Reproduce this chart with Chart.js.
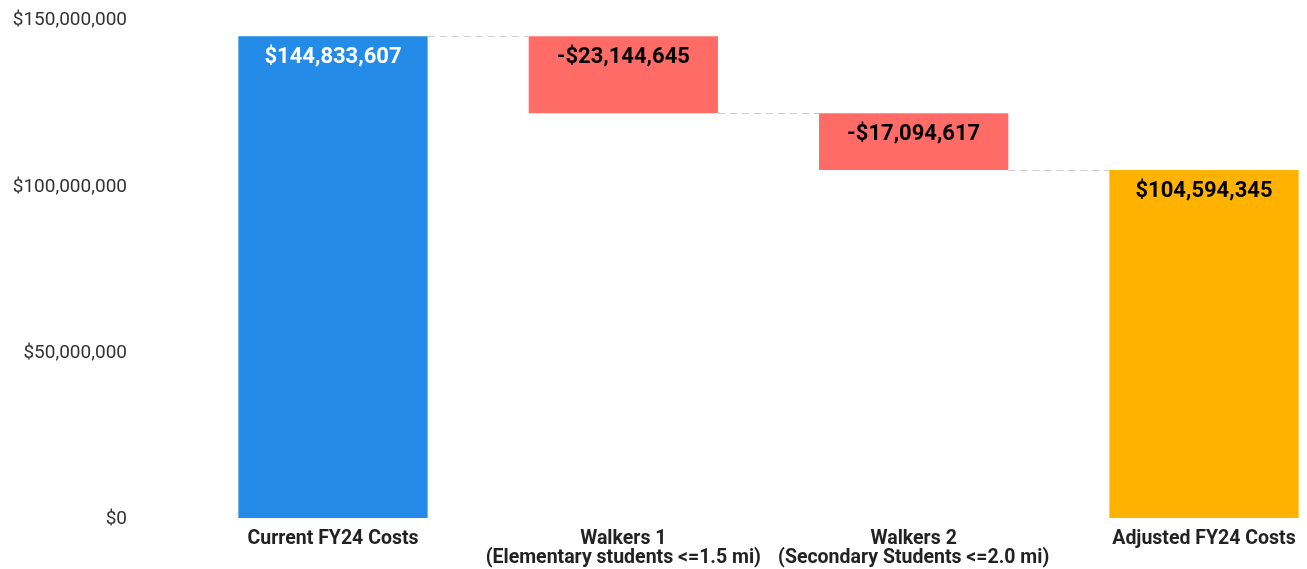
<!DOCTYPE html>
<html lang="en">
<head>
    <meta charset="UTF-8">
    <title>FY24 Costs Waterfall</title>
    <script src="https://cdn.jsdelivr.net/npm/chart.js"></script>
    <style>
        html, body { margin: 0; padding: 0; background: #fff; }
        .canvas-container { width: 1307px; height: 569px; }
    </style>
</head>
<body>

<div class="canvas-container">
    <canvas id="waterfallChart"></canvas>
</div>

<script>
    // Categories and step amounts
    const categories = [
        'Current FY24 Costs',
        ['Walkers 1', '(Elementary students <=1.5 mi)'],
        ['Walkers 2', '(Secondary Students <=2.0 mi)'],
        'Adjusted FY24 Costs'
    ];
    const amounts = [144833607, -23144645, -17094617, 104594345];
    const isTotal = [true, false, false, true];
    const yTicks = [0, 50000000, 100000000, 150000000];

    const barColors = ['#248be8', '#ff6b66', '#ff6b66', '#ffb300'];
    const labelColors = ['#ffffff', '#000000', '#000000', '#000000'];

    // Build floating ranges for the waterfall
    let running = 0;
    const ranges = amounts.map((amt, i) => {
        if (isTotal[i]) {
            running = amt;
            return [0, amt];
        }
        const start = running;
        running += amt;
        return [running, start];
    });
    const levels = [];
    running = 0;
    amounts.forEach((amt, i) => {
        running = isTotal[i] ? amt : running + amt;
        levels.push(running);
    });

    function money(v) {
        const s = '$' + Math.abs(v).toLocaleString('en-US');
        return v < 0 ? '-' + s : s;
    }

    // Draws the dashed connectors and the value labels
    const waterfallPlugin = {
        id: 'waterfall',
        afterDatasetsDraw(chart) {
            const ctx = chart.ctx;
            const yScale = chart.scales.y;
            const bars = chart.getDatasetMeta(0).data;

            ctx.save();
            ctx.strokeStyle = '#cccccc';
            ctx.lineWidth = 1;
            ctx.setLineDash([7, 5]);
            for (let i = 0; i < bars.length - 1; i++) {
                const y = Math.round(yScale.getPixelForValue(levels[i])) + 0.5;
                ctx.beginPath();
                ctx.moveTo(bars[i].x + bars[i].width / 2, y);
                ctx.lineTo(bars[i + 1].x - bars[i + 1].width / 2, y);
                ctx.stroke();
            }
            ctx.restore();

            ctx.save();
            ctx.font = 'bold 22px Roboto';
            ctx.textAlign = 'center';
            ctx.textBaseline = 'middle';
            bars.forEach((bar, i) => {
                const top = yScale.getPixelForValue(Math.max(ranges[i][0], ranges[i][1]));
                ctx.fillStyle = labelColors[i];
                ctx.fillText(money(amounts[i]), bar.x, top + 21.5);
            });
            ctx.restore();
        }
    };

    const ctx = document.getElementById('waterfallChart').getContext('2d');

    const waterfallChart = new Chart(ctx, {
        type: 'bar',
        data: {
            labels: categories,
            datasets: [{
                data: ranges,
                backgroundColor: barColors,
                borderWidth: 0,
                borderSkipped: false,
                clip: false,
                categoryPercentage: 1,
                barPercentage: 0.652
            }]
        },
        plugins: [waterfallPlugin],
        options: {
            responsive: true,
            maintainAspectRatio: false,
            animation: false,
            layout: {
                padding: { top: 0, right: 103, bottom: 0, left: 0 }
            },
            plugins: {
                legend: { display: false },
                tooltip: { enabled: false }
            },
            scales: {
                x: {
                    offset: false,
                    grid: { display: false, drawTicks: false },
                    border: { display: false },
                    afterFit(scale) {
                        scale.height = 51;
                    },
                    ticks: {
                        autoSkip: false,
                        maxRotation: 0,
                        padding: 11,
                        color: '#222222',
                        font: { family: 'Roboto', size: 19.5, weight: 'bold', lineHeight: 1.0 }
                    }
                },
                y: {
                    min: 0,
                    max: 150000000,
                    afterBuildTicks(scale) {
                        scale.ticks = yTicks.map(v => ({ value: v }));
                    },
                    afterFit(scale) {
                        scale.width = 333;
                        scale.paddingTop = 19;
                        scale.paddingBottom = 0;
                    },
                    grid: { display: false, drawTicks: false },
                    border: { display: false },
                    ticks: {
                        padding: 206,
                        labelOffset: 1.5,
                        color: '#333333',
                        font: { family: 'Roboto', size: 19 },
                        callback: v => money(v)
                    }
                }
            }
        }
    });
</script>

</body>
</html>
